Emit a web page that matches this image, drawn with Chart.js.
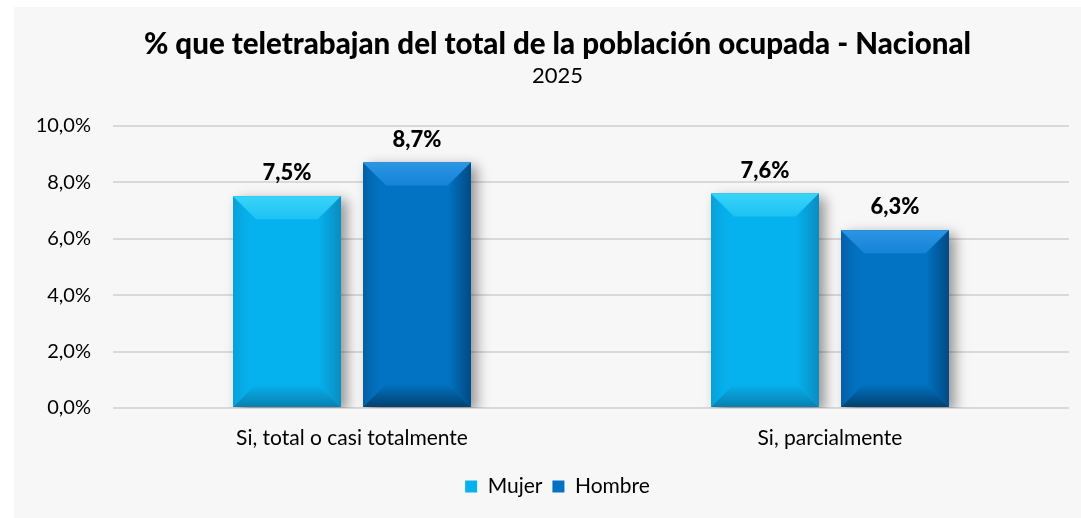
<!DOCTYPE html>
<html>
<head>
<meta charset="utf-8">
<script src="https://cdn.jsdelivr.net/npm/chart.js@4/dist/chart.umd.min.js"></script>
<style>
  html, body { margin: 0; padding: 0; background: #ffffff; overflow: hidden; }
  #wrap {
    position: absolute; left: 14px; top: 7px;
    width: 1067px; height: 511px; background: #f7f7f7;
  }
</style>
</head>
<body>
<div id="wrap"><canvas id="teleChart" width="1067" height="511"></canvas></div>
<script>
const categories = ["Si, total o casi totalmente", "Si, parcialmente"];
const seriesNames = ["Mujer", "Hombre"];
const mujerValues = [7.5, 7.6];
const hombreValues = [8.7, 6.3];
const yTicks = [0, 2, 4, 6, 8, 10];

const FONT = "Lato, 'Open Sans', sans-serif";

// face colour plus the light / dark tones used on the bevelled edges
const palettes = [
  { face: "#06b2ee", topEdge: "#3ad4f8", topInner: "#1cc2f3", dark: "#0a7fb0", sideDark: "#0a8cc0" },
  { face: "#0273c3", topEdge: "#2d95e4", topInner: "#1583d6", dark: "#02416f", sideDark: "#024a82" }
];

const fmt = v => v.toFixed(1).replace(".", ",") + "%";

// drop shadow under the bars
const shadowPlugin = {
  id: "barShadow",
  beforeDatasetsDraw(chart) {
    const ctx = chart.ctx;
    ctx.save();
    ctx.shadowColor = "rgba(0,0,0,0.4)";
    ctx.shadowBlur = 12;
    ctx.shadowOffsetX = 6;
    ctx.shadowOffsetY = 4;
  },
  afterDatasetsDraw(chart) {
    chart.ctx.restore();
  }
};

// bevelled edges plus value labels on top of each bar
const bevelPlugin = {
  id: "bevel",
  afterDatasetsDraw(chart) {
    const ctx = chart.ctx;
    ctx.save();
    chart.data.datasets.forEach((ds, di) => {
      const pal = palettes[di];
      chart.getDatasetMeta(di).data.forEach((bar, i) => {
        const l = bar.x - bar.width / 2, r = bar.x + bar.width / 2;
        const t = bar.y, b = bar.base;
        const s = Math.min(23, (b - t) / 2);
        const poly = (pts, fill) => {
          ctx.beginPath();
          ctx.moveTo(pts[0][0], pts[0][1]);
          for (let k = 1; k < pts.length; k++) ctx.lineTo(pts[k][0], pts[k][1]);
          ctx.closePath();
          ctx.fillStyle = fill;
          ctx.fill();
        };
        const grad = (x0, y0, x1, y1, c0, c1) => {
          const g = ctx.createLinearGradient(x0, y0, x1, y1);
          g.addColorStop(0, c0);
          g.addColorStop(1, c1);
          return g;
        };

        ctx.fillStyle = pal.face;
        ctx.fillRect(l, t, r - l, b - t);
        // top: light band fading towards the face
        poly([[l, t], [r, t], [r - s, t + s], [l + s, t + s]],
          grad(0, t, 0, t + s, pal.topEdge, pal.topInner));
        // bottom: darkens towards the base
        poly([[l, b], [r, b], [r - s, b - s], [l + s, b - s]],
          grad(0, b - s, 0, b, pal.face, pal.dark));
        // right: darkens towards the outer edge
        poly([[r, t], [r - s, t + s], [r - s, b - s], [r, b]],
          grad(r - s, 0, r, 0, pal.face, pal.sideDark));
        // left: faint shading at the edge
        poly([[l, t + 1], [l + s, t + s], [l + s, b - s], [l, b]],
          grad(l, 0, l + s, 0, pal.sideDark + "80", pal.face + "00"));

        ctx.fillStyle = "#000";
        ctx.font = "900 22px " + FONT;
        ctx.textAlign = "center";
        ctx.textBaseline = "middle";
        ctx.fillText(fmt(ds.data[i]), bar.x, t - 23);
      });
    });
    ctx.restore();
  }
};

const ctx = document.getElementById("teleChart").getContext("2d");
new Chart(ctx, {
  type: "bar",
  data: {
    labels: categories,
    datasets: [
      { label: seriesNames[0], data: mujerValues, backgroundColor: palettes[0].face },
      { label: seriesNames[1], data: hombreValues, backgroundColor: palettes[1].face }
    ]
  },
  options: {
    responsive: false,
    animation: false,
    categoryPercentage: 0.544,
    barPercentage: 0.83,
    layout: { padding: { left: 20, right: 0, top: 0, bottom: 11 } },
    plugins: {
      title: {
        display: true,
        text: "% que teletrabajan del total de la población ocupada - Nacional",
        color: "#000",
        font: { family: FONT, size: 29.5, weight: "900" },
        padding: { top: 20, bottom: 0 }
      },
      subtitle: {
        display: true,
        text: "2025",
        color: "#000",
        font: { family: FONT, size: 22 },
        padding: { top: 0, bottom: 37 }
      },
      legend: {
        position: "bottom",
        labels: {
          color: "#000",
          font: { family: FONT, size: 21 },
          boxWidth: 12,
          boxHeight: 12,
          padding: 10
        }
      },
      tooltip: { enabled: false }
    },
    scales: {
      x: {
        grid: { display: false },
        border: { display: false },
        ticks: { color: "#000", font: { family: FONT, size: 21 }, padding: 10 },
        afterFit(scale) { scale.height = 58; }
      },
      y: {
        min: 0,
        max: 10,
        afterBuildTicks(scale) { scale.ticks = yTicks.map(v => ({ value: v })); },
        grid: { color: "#d9d9d9", lineWidth: 2, drawTicks: false },
        border: { display: false },
        ticks: { color: "#000", font: { family: FONT, size: 20 }, padding: 22, callback: v => fmt(v) },
        afterFit(scale) { scale.width = 79; }
      },
      // empty right-hand margin so the plot ends short of the panel edge
      yRight: {
        position: "right",
        grid: { display: false },
        border: { display: false },
        ticks: { display: false },
        afterFit(scale) { scale.width = 12; }
      }
    }
  },
  plugins: [shadowPlugin, bevelPlugin]
});
</script>
</body>
</html>
